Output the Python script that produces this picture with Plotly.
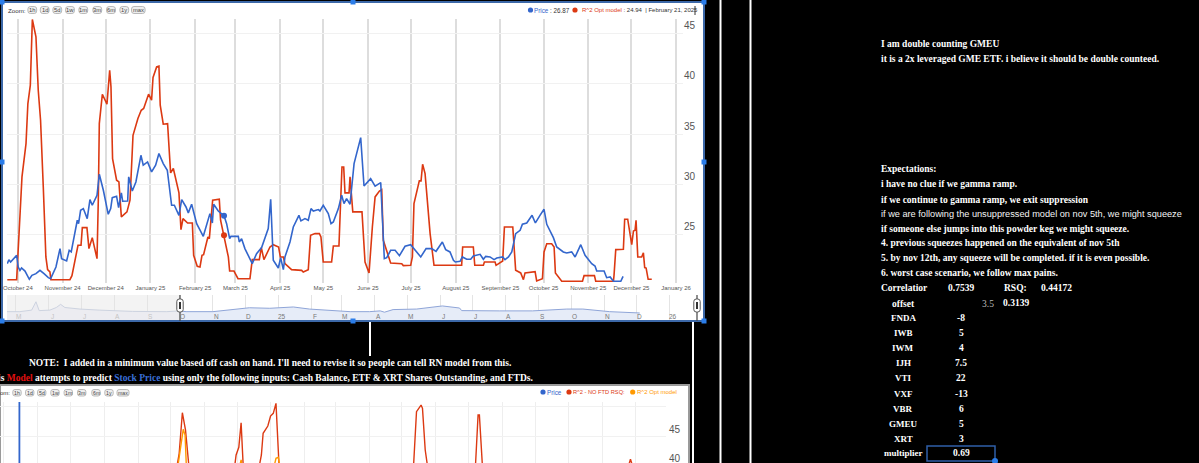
import pandas as pd
import plotly.graph_objects as go

W, H = 1199, 463
BLUE, RED, ORANGE = "#3366cc", "#dc3912", "#ff9900"
SERIF = "Liberation Serif"
SANS = "Liberation Sans"

# ---- main chart data: days since 2024-10-01, value
red_days = [-7.4,-0.9,2.8,5.6,6.9,8.6,10,12.5,14.1,15.7,17.6,19.4,20.6,22.2,22.9,36.1,37.5,40.3,41.7,43.8,44.7,47.9,49.3,51.6,54.9,55.8,56.5,58.6,61.8,63.7,64.6,65.7,68.5,70.1,71.8,75.7,77.8,79.9,83.3,85.6,87.3,90.7,92.8,93.8,96.3,97.9,98.8,100.9,103.9,106,107.9,111.8,113.2,114.6,117.8,121.1,122,124.5,126.4,127.8,128.9,131.9,132.9,135.2,139.8,140.7,143.1,146.1,147,150,152.8,161.1,162.7,167.6,169,170.8,175,177.3,181,182.2,184.3,185.4,190,193.5,197,198.1,201.6,203.2,206.3,209.3,210.4,212,217.8,219,222.9,224.1,225,226.2,227.1,229.9,230.6,232.5,238.9,241,243.8,246.1,248,251,252.6,253.7,258.8,266.5,267.6,272.7,273.9,275,278.7,279.9,281,282.7,286.2,288.9,308.1,308.8,316.2,317.2,323.2,323.9,331.3,332,336.6,337.8,343.6,345.6,349.1,351,352.1,359.1,360.2,364.2,365.3,367.2,370.6,372.3,373.2,377.6,392,393.1,400.3,401.2,413.5,413.9,415.1,420.4,421.3,423.4,426.2,427.4,428.5,429.2,430.4,433.1,434.3,435.2,436.2,437.6,440.1]
red_vals = [20.52,20.52,30.74,34.05,38.03,39.86,46.39,44.67,39.36,36.38,29.74,22.78,21.52,21.29,20.52,20.52,20.92,22.78,23.94,23.94,25.7,25.7,23.61,24.7,22.61,28.42,36.04,38.96,37.97,41.35,39.69,32.56,30.41,30.24,26.76,27.26,28.42,34.88,36.54,37.37,37.54,38.96,38.37,40.62,41.68,41.75,37.87,35.98,36.04,31.14,31.57,29.15,25.5,26.59,26.16,26.16,22.94,21.85,21.78,22.94,23.01,24.77,24.6,28.42,28.52,26.43,24.94,22.78,21.38,21.38,20.62,20.62,22.51,22.51,23.71,22.51,23.77,24,23.77,22.78,22.78,22.11,21.52,21.45,21.45,21.29,21.52,24.93,25.1,25.1,24.77,22.28,22.28,23.87,23.87,28.42,31.73,31.73,29.15,29.15,30.74,27.26,27.26,22.28,21.19,25.76,28.75,29.34,29.48,24.44,22.18,22.11,21.92,21.95,22.78,28.08,30.34,30.34,32,31.07,25.1,21.95,21.95,23.77,23.77,21.95,21.95,22.28,22.28,21.95,22.38,25.76,25.76,21.45,21.19,20.52,21.19,21.32,20.39,20.62,23.28,24.1,24.1,23.77,21.19,20.36,20.36,20.92,20.92,20.36,20.36,20.95,23.51,23.54,26.53,26.53,24,25.36,25.43,26.43,22.78,22.78,23.18,21.72,21.68,20.56,20.56]
blue_days = [-7.4,-6.3,-5.1,-3.7,-0.9,0.2,1.4,2.5,4.9,7.9,9.7,12.5,15.3,18.1,21.1,22.7,26.4,29.2,30.3,33.8,35.6,37,39.6,41.2,42.1,43.5,45.4,48.1,50,51.6,54.9,56.5,59.3,61.6,62.7,64.4,65.5,68.5,69.9,71.8,72.7,76.2,76.9,79.4,81.9,85.4,87,90,92.8,95.6,97.9,100.9,103.7,106.7,108.6,111.8,113.7,116.7,118.3,120.6,124.1,128.7,133.3,135,135.9,139.1,143.1,144.9,147,147.9,153,153.7,155.3,157.6,161.1,162.7,165.7,169.2,173.8,175.5,176.4,177.3,180.8,182.4,184.3,185.4,188.9,191.2,195.1,196.5,199.3,201.6,203.5,205.1,208.6,209.7,212,215.5,217.4,219,222.5,224.8,226.4,228.2,230.6,233.4,238,240.3,244.9,248,251.9,253.7,254.4,256.1,258.8,261.9,264.9,268.8,272.7,279.7,283.4,287.3,290.3,294.7,297,300,302.4,303.7,307,308.6,311.6,314.4,316.2,320.9,323.2,324.8,327.8,330.6,332.5,336.6,338.2,340.6,342.9,345.6,348.7,350.3,353.3,357,359.3,362.5,365.3,367.2,369.5,371.8,374.1,378.7,381,384.5,386.9,390.8,393.8,398.4,400.7,401.9,407,408.8,411.2,413.5,418.6,420.2]
blue_vals = [22.11,22.51,22.28,22.51,22.94,21.78,21.45,21.68,21.38,20.56,20.95,21.12,21.45,21.12,20.72,20.62,21.78,23.61,22.61,22.38,23.44,23.28,25.43,26.43,26.09,27.42,27.59,26.59,28.48,27.92,28.91,31,29.41,27.92,27.02,27.59,28.68,28.81,27.69,29.15,28.32,28.35,30.74,29.34,30.24,32.89,31.9,32.23,31.24,31.9,33.06,32.06,31.4,27.92,27.92,26.92,28.48,27.75,27.16,28.02,26.09,24.83,27.09,26.16,28.02,27.35,26.87,26.09,24.6,24.83,24.83,24.27,24.6,23.61,22.51,22.11,23.11,23.71,25.6,28.52,25.43,22.45,21.68,22.71,21.52,22.78,24.27,25.76,26.92,26.36,26.59,26.43,27.59,27.35,27.49,27.35,27.92,27.09,26.09,26.26,27.59,28.91,28.08,28.58,28.02,32.06,34.65,29.84,30.57,29.81,30.17,24.44,22.61,22.71,23.44,23.44,22.91,23.84,24,22.78,23.61,23.61,23.34,24.27,23.51,23.28,22.45,22.28,22.35,22.78,22.55,22.55,22.88,23.04,22.55,22.84,22.78,22.51,22.68,22.78,22.51,22.78,23.28,25.1,25.43,26.03,26.16,26.92,26.16,26.92,27.52,26.03,25.43,24.7,23.77,23.28,23.18,23.28,22.78,24,22.94,22.11,21.88,21.38,21.38,20.72,20.79,20.36,20.36,20.85]
hover_day = 143.1
hover_price = 26.87
hover_model = 24.94
y_ticks = [25, 30, 35, 40, 45]

# ---- overview strip: days since 2024-10-01, price
ov_past_days = [-161,-149,-138,-134,-131,-121,-115,-111,-107,-93,-75,-44,-12,0]
ov_past_vals = [23,23,26,42,25,26,31,37,31,28,26,23.5,23,24.5]
ov_cur_days = [0,6,31,47,65,84,106,121,143,159,177,187,191,199,221,245,261,263,298,329,361,376,401,429]
ov_cur_vals = [24.5,23,23,26,30.5,29.5,32,28,25,23,23,24.5,22,27,28,34,30,25,24.5,24.5,28,28,23,20.5]
ov_labels = ["M","J","J","A","S","O","N","D","25","F","M","A","M","J","J","A","S","O","N","D","26"]
ov_label_months = pd.date_range("2024-05-01", "2026-01-01", freq="MS")

# ---- lower chart: days since 2025-01-01, value (None breaks a line)
low_red_days = [-86.8,-84.2,-81.3,-78.4,-75,None,-33.7,-32,-29.5,-27.4,-25.3,None,-11.4,-8.8,-7.2,-2.9,-0.4,2.1,4.6,7.6,None,130.6,133.5,137.7,139,141.5,144.1,None,187.4,190,191.2,194.2,None,326.9,329.8,332.8]
low_red_vals = [39.68,42.37,48.92,46.13,39.68,None,39.68,42.1,43.34,47.31,39.68,None,39.68,42.1,45.6,46.77,48.39,48.82,50.43,39.68,None,39.68,49.08,50.16,49.63,42.9,39.68,None,39.68,48.55,48.55,39.68,None,39.68,41.4,39.68]
low_orange_days = [-85.9,-82.6,-80.5,-78.8,-77.5,None,-29.5,-27.4,-25.7,None,2.1,4.6,6.7,8.8]
low_orange_vals = [39.68,43.44,46.24,45.32,39.68,None,39.68,41.29,39.68,None,39.68,41.56,41.72,39.68]
low_blue_days = [-230.8,-230.8]
low_blue_vals = [39.0,50.65]

# ---- texts
zoom_buttons = ["1h","1d","5d","1w","1m","3m","6m","1y","max"]
note_lines = ["I am double counting GMEU",
              "it is a 2x leveraged GME ETF. i believe it should be double counteed."]
expect_lines = ["Expectations:",
                "i have no clue if we gamma ramp.",
                "if we continue to gamma ramp, we exit suppression",
                "if we are following the unsuppressed model on nov 5th, we might squeeze",
                "if someone else jumps into this powder keg we might squeeze.",
                "4. previous squeezes happened on the equivalent of nov 5th",
                "5. by nov 12th, any squeeze will be completed. if it is even possible.",
                "6. worst case scenario, we follow max pains."]
tickers = ["FNDA","IWB","IWM","IJH","VTI","VXF","VBR","GMEU","XRT","multiplier"]
weights = ["-8","5","4","7.5","22","-13","6","5","3","0.69"]

base1 = pd.Timestamp("2024-10-01")
base2 = pd.Timestamp("2025-01-01")
def d1(days):
    return [base1 + pd.Timedelta(days=float(v)) for v in days]
def d2(days):
    return [None if v is None else base2 + pd.Timedelta(days=float(v)) for v in days]

px = lambda x: x / W
py = lambda y: 1 - y / H

fig = go.Figure()
line = lambda c, w=1.6: dict(color=c, width=w)
fig.add_trace(go.Scatter(x=d1(red_days), y=red_vals, mode="lines", line=line(RED), xaxis="x", yaxis="y"))
fig.add_trace(go.Scatter(x=d1(blue_days), y=blue_vals, mode="lines", line=line(BLUE), xaxis="x", yaxis="y"))
fig.add_trace(go.Scatter(x=d1([hover_day]), y=[hover_price], mode="markers", marker=dict(color=BLUE, size=6), xaxis="x", yaxis="y"))
fig.add_trace(go.Scatter(x=d1([hover_day]), y=[hover_model], mode="markers", marker=dict(color=RED, size=6), xaxis="x", yaxis="y"))

fig.add_trace(go.Scatter(x=d2(low_red_days), y=low_red_vals, mode="lines", line=line(RED, 1.4), xaxis="x2", yaxis="y2"))
fig.add_trace(go.Scatter(x=d2(low_orange_days), y=low_orange_vals, mode="lines", line=line(ORANGE, 1.4), xaxis="x2", yaxis="y2"))
fig.add_trace(go.Scatter(x=d2(low_blue_days), y=low_blue_vals, mode="lines", line=line(BLUE, 1.8), xaxis="x2", yaxis="y2"))

fig.add_trace(go.Scatter(x=d1(ov_past_days), y=ov_past_vals, mode="lines", fill="tozeroy", fillcolor="#ececf1",
                         line=line("#cdd3e0", 1), xaxis="x3", yaxis="y3"))
fig.add_trace(go.Scatter(x=d1(ov_cur_days), y=ov_cur_vals, mode="lines", fill="tozeroy", fillcolor="#e6ecf8",
                         line=line("#8fa5d8", 1), xaxis="x3", yaxis="y3"))

shapes, anns = [], []
def rect(x0, y0, x1, y1, fill=None, lc=None, lw=0, layer="below"):
    shapes.append(dict(type="rect", xref="paper", yref="paper", x0=px(x0), x1=px(x1), y0=py(y0), y1=py(y1),
                       fillcolor=fill, line=dict(color=lc, width=lw), layer=layer))
def vline(x, y0, y1, c="white", w=2, layer="below"):
    shapes.append(dict(type="line", xref="paper", yref="paper", x0=px(x), x1=px(x), y0=py(y0), y1=py(y1),
                       line=dict(color=c, width=w), layer=layer))
def dot(x, y, c, r=2.6):
    shapes.append(dict(type="circle", xref="paper", yref="paper", x0=px(x-r), x1=px(x+r), y0=py(y+r), y1=py(y-r),
                       fillcolor=c, line=dict(width=0), layer="above"))
def rrect(x0, y0, x1, y1, r, fill, lc, lw=0.8, layer="above"):
    p = (f"M {px(x0+r)} {py(y0)} L {px(x1-r)} {py(y0)} Q {px(x1)} {py(y0)} {px(x1)} {py(y0+r)} "
         f"L {px(x1)} {py(y1-r)} Q {px(x1)} {py(y1)} {px(x1-r)} {py(y1)} "
         f"L {px(x0+r)} {py(y1)} Q {px(x0)} {py(y1)} {px(x0)} {py(y1-r)} "
         f"L {px(x0)} {py(y0+r)} Q {px(x0)} {py(y0)} {px(x0+r)} {py(y0)} Z")
    shapes.append(dict(type="path", xref="paper", yref="paper", path=p, fillcolor=fill,
                       line=dict(color=lc, width=lw), layer=layer))
def text(x, y, s, size=9.5, color="white", font=SERIF, anchor="left", bold=False):
    if bold:
        s = f"<b>{s}</b>"
    anns.append(dict(xref="paper", yref="paper", x=px(x), y=py(y), text=s, showarrow=False, xanchor=anchor,
                     yanchor="middle", font=dict(family=font, size=size, color=color), borderpad=0, borderwidth=0))

# cards and separators
rect(2, 2, 704, 321, fill="white", lc="#3c68a8", lw=2)
rect(0, 385, 689, 470, fill="white", lc="#9a9a9a", lw=2)
vline(693, 322, 463)
vline(720.5, 0, 463)
vline(750.5, 0, 463)
vline(370, 322, 356)

# selection handles of the main card
for hx, hy in [(2,2),(353,2),(704,2),(2,162),(704,162),(2,321),(353,321),(704,321)]:
    rect(hx-2.5, hy-2.5, hx+2.5, hy+2.5, fill="#2b7de9", layer="above")

# range selector buttons
text(8, 10, "Zoom:", 6.2, "#333", SANS)
for cx, lab in zip([32.3,44.7,57.3,70,83.3,97.3,111,124.3,138.3], zoom_buttons):
    hw = 6.8 if lab == "max" else 4.4
    rrect(cx-hw, 6.5, cx+hw, 13.5, 2.5, "#eeeeee", "#aaaaaa")
    text(cx, 10, lab, 5.8, "#444", SANS, "center")
text(10, 392.7, "om:", 6, "#333", SANS, "right")
for cx, lab in zip([17,29.7,41.7,55,68.3,81.7,96,109,123], zoom_buttons):
    hw = 6 if lab == "max" else 4.2
    rrect(cx-hw, 389.5, cx+hw, 396, 2.2, "#eeeeee", "#aaaaaa")
    text(cx, 392.7, lab, 5.2, "#444", SANS, "center")

# legends
def span(s, c):
    return f'<span style="color:{c}">{s}</span>'
dot(530.5, 10, BLUE)
text(534, 10, span("Price", BLUE) + " : 26.87", 6.3, "#333", SANS)
dot(575, 10, RED)
text(698, 10, span("R^2 Opt model", RED) + " : 24.94  | February 21, 2025", 6, "#333", SANS, "right")
dot(543, 392, BLUE)
text(547, 392, "Price", 6.3, BLUE, SANS)
dot(569, 392, RED)
text(573, 392, "R^2 - NO FTD RSQ:", 5.7, RED, SANS)
dot(632.7, 392, ORANGE)
text(637, 392, "R^2 Opt model", 6, ORANGE, SANS)
vline(695, 6, 15, "#333", 1, "above")

# lower chart axis labels sit above their gridlines
text(675, 429, "45", 10, "#555", SANS, "center")
text(675, 458, "40", 10, "#555", SANS, "center")

# overview strip
rect(7, 295, 180, 320, fill="#f3f3f3")
for d, lab in zip(ov_label_months, ov_labels):
    anns.append(dict(xref="x3", yref="paper", x=d + pd.Timedelta(days=3), y=py(316), text=lab, showarrow=False,
                     xanchor="center", yanchor="middle",
                     font=dict(family=SANS, size=6.5, color="#c4c4c4" if d < base1 else "#777")))
for hx in (180, 697):
    vline(hx, 295, 321, "#444", 1.2, "above")
    rrect(hx-3.2, 299, hx+3.2, 312, 2.5, "white", "#555", 1)
    rect(hx-1, 302, hx+1, 309, fill="#333", layer="above")

# spreadsheet text, left
text(28.5, 363, "NOTE:  I added in a minimum value based off cash on hand. I'll need to revise it so people can tell RN model from this.", bold=True)
text(533, 378, "is " + span("Model", "#e01010") + " attempts to predict " + span("Stock Price", "#3a6fd8")
     + " using only the following inputs: Cash Balance, ETF &amp; XRT Shares Outstanding, and FTDs.", anchor="right", bold=True)

# spreadsheet text, right
for y, s in zip([44, 59], note_lines):
    text(881, y, s, bold=True)
for y, s in zip([169,184,200,214,229,243,258,273], expect_lines):
    if s.startswith("if we are following"):
        text(881, y, s, 9.2, "#f4f4f4", SANS)
    else:
        text(881, y, s, bold=True)
text(881, 288, "Correlatior", bold=True)
text(961, 288, "0.7539", anchor="center", bold=True)
text(1016, 288, "RSQ:", anchor="center", bold=True)
text(1056, 288, "0.44172", anchor="center", bold=True)
text(903, 304, "offset", anchor="center", bold=True)
text(988, 304, "3.5", color="#bbbbbb", anchor="center")
text(1016, 303, "0.3139", anchor="center", bold=True)
for y, t, w in zip([318,333,348,363,378,394,409,424,439,453], tickers, weights):
    text(903, y, t, 9, anchor="center", bold=True)
    text(961, y, w, anchor="center", bold=True)
rect(927, 446, 995, 461, lc="#2f5fa8", lw=1.5, layer="above")
dot(995, 461, "#2b7de9", 3)

grid = dict(showline=False, zeroline=False, ticks="", automargin=False)
fig.update_layout(
    template="none",
    width=W, height=H, margin=dict(l=0, r=0, t=0, b=0, pad=0), autosize=False,
    paper_bgcolor="black", plot_bgcolor="rgba(0,0,0,0)", showlegend=False,
    shapes=shapes, annotations=anns, hovermode=False,
    xaxis=dict(domain=[px(7), px(683)], anchor="y", type="date", range=[base1 + pd.Timedelta(days=-7.6), base1 + pd.Timedelta(days=461.8)],
               tick0="2024-10-01", dtick="M1", tickformat="%B %y", ticklabelmode="instant", tickangle=0, showgrid=True,
               ticklabeloverflow="allow", gridcolor="#dddddd", gridwidth=1.5, tickfont=dict(family=SANS, size=6, color="#555"), **grid),
    yaxis=dict(domain=[py(283), py(18.5)], anchor="x", range=[20.19, 46.49], side="right", tickvals=y_ticks, showgrid=True,
               gridcolor="#f1f1f1", gridwidth=1, ticklabelshift=-8, tickfont=dict(family=SANS, size=10, color="#555"), **grid),
    xaxis2=dict(domain=[0, px(666)], anchor="y2", type="date", range=[base2 + pd.Timedelta(days=-248.6), base2 + pd.Timedelta(days=362.4)],
                tick0="2024-01-01", dtick="M1", showticklabels=False, showgrid=True, gridcolor="#eeeeee", gridwidth=1, **grid),
    yaxis2=dict(domain=[0, py(401.7)], anchor="x2", range=[40.8, 50.7], side="right", tickvals=[45, 50], showgrid=True,
                showticklabels=False, gridcolor="#f1f1f1", gridwidth=1, **grid),
    xaxis3=dict(domain=[px(7), px(703)], anchor="y3", type="date", range=[base1 + pd.Timedelta(days=-161), base1 + pd.Timedelta(days=488)],
                tick0="2024-05-01", dtick="M1", showticklabels=False, showgrid=True, gridcolor="#e4e4e4", gridwidth=1, **grid),
    yaxis3=dict(domain=[py(320), py(295)], anchor="x3", range=[7, 55], showticklabels=False, showgrid=False, **grid),
)

fig.write_html("out.html", config=dict(displayModeBar=False),
               post_script="document.body.style.margin='0';document.body.style.overflow='hidden';document.body.style.background='black';")
